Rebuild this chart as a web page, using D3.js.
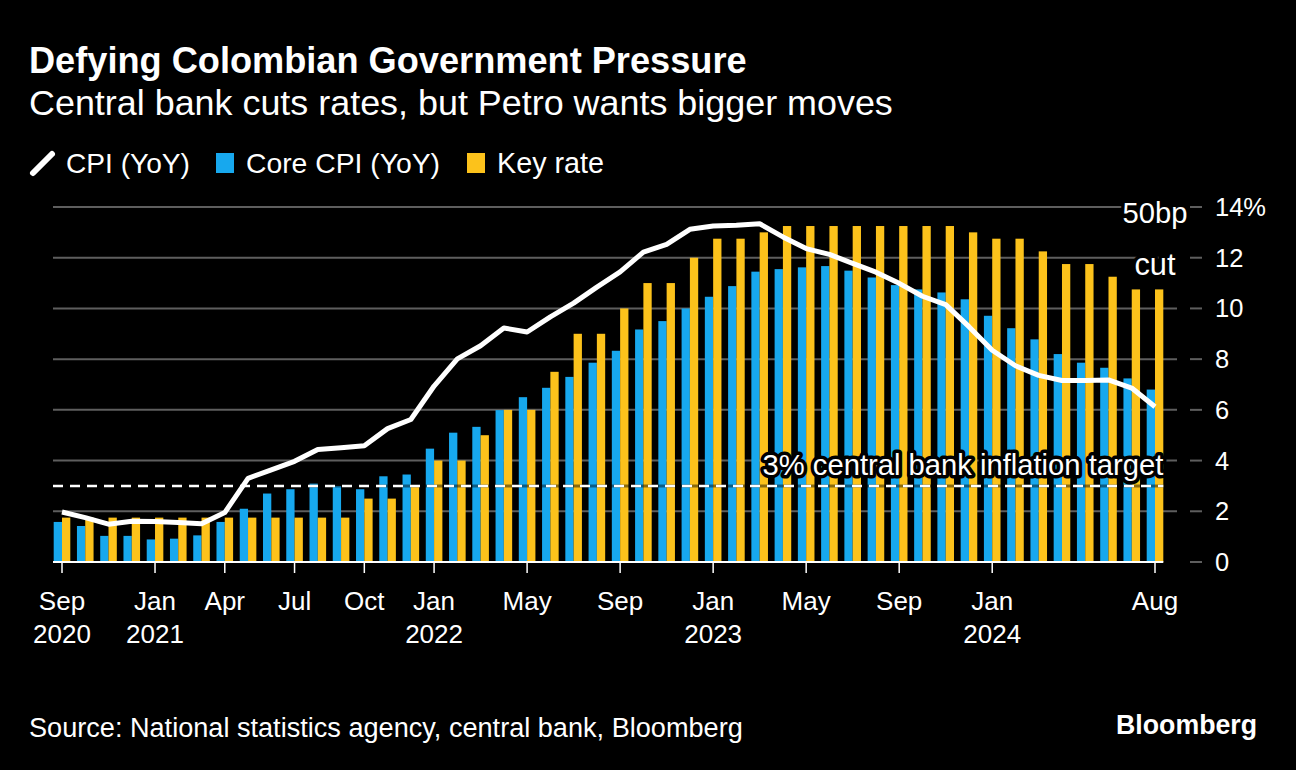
<!DOCTYPE html>
<html>
<head>
<meta charset="utf-8">
<script src="https://cdn.jsdelivr.net/npm/d3@7"></script>
<style>
  html, body { margin: 0; padding: 0; background: #000; }
  svg { display: block; }
  text { font-family: "Liberation Sans", Arial, Helvetica, sans-serif; fill: #fff; }
</style>
</head>
<body>
<svg id="chart" width="1296" height="770"></svg>
<script>
// ---------------- DATA ----------------
const months = [
  "2020-09","2020-10","2020-11","2020-12",
  "2021-01","2021-02","2021-03","2021-04","2021-05","2021-06","2021-07","2021-08","2021-09","2021-10","2021-11","2021-12",
  "2022-01","2022-02","2022-03","2022-04","2022-05","2022-06","2022-07","2022-08","2022-09","2022-10","2022-11","2022-12",
  "2023-01","2023-02","2023-03","2023-04","2023-05","2023-06","2023-07","2023-08","2023-09","2023-10","2023-11","2023-12",
  "2024-01","2024-02","2024-03","2024-04","2024-05","2024-06","2024-07","2024-08"
];
const cpi = [
  1.97,1.75,1.49,1.61,
  1.60,1.56,1.51,1.95,3.30,3.63,3.97,4.44,4.51,4.58,5.26,5.62,
  6.94,8.01,8.53,9.23,9.07,9.67,10.21,10.84,11.44,12.22,12.53,13.12,
  13.25,13.28,13.34,12.82,12.36,12.13,11.78,11.43,10.99,10.48,10.15,9.28,
  8.35,7.74,7.36,7.16,7.16,7.18,6.86,6.12
];
const coreCpi = [
  1.58,1.42,1.03,1.03,
  0.89,0.92,1.05,1.58,2.10,2.70,2.87,3.09,3.00,2.87,3.38,3.45,
  4.47,5.10,5.33,5.99,6.50,6.87,7.30,7.86,8.33,9.17,9.50,10.00,
  10.46,10.88,11.45,11.55,11.62,11.67,11.49,11.22,10.92,10.75,10.63,10.36,
  9.71,9.22,8.78,8.20,7.86,7.66,7.24,6.80
];
const keyRate = [
  1.75,1.75,1.75,1.75,
  1.75,1.75,1.75,1.75,1.75,1.75,1.75,1.75,1.75,2.50,2.50,3.00,
  4.00,4.00,5.00,6.00,6.00,7.50,9.00,9.00,10.00,11.00,11.00,12.00,
  12.75,12.75,13.00,13.25,13.25,13.25,13.25,13.25,13.25,13.25,13.25,13.00,
  12.75,12.75,12.25,11.75,11.75,11.25,10.75,10.75
];
const yTicks = [0, 2, 4, 6, 8, 10, 12, 14];
const xTickMonths = ["2020-09","2021-01","2021-04","2021-07","2021-10","2022-01","2022-05","2022-09","2023-01","2023-05","2023-09","2024-01","2024-08"];
const xTickMonthLabels = ["Sep","Jan","Apr","Jul","Oct","Jan","May","Sep","Jan","May","Sep","Jan","Aug"];
const xTickYearLabels = ["2020","2021","","","","2022","","","2023","","","2024",""];
const inflationTarget = 3;

const titleText = "Defying Colombian Government Pressure";
const subtitleText = "Central bank cuts rates, but Petro wants bigger moves";
const legendLabels = ["CPI (YoY)", "Core CPI (YoY)", "Key rate"];
const sourceText = "Source: National statistics agency, central bank, Bloomberg";

// ---------------- STYLE ----------------
const BLUE = "#17a8ee";
const YELLOW = "#fcc21b";
const GRID = "#5e5e5e";

const svg = d3.select("#chart");
svg.append("rect").attr("width", 1296).attr("height", 770).attr("fill", "#000");

function fit(sel, target) {
  const node = sel.node();
  const fs = parseFloat(sel.attr("font-size"));
  const w = node.getComputedTextLength();
  if (w > 0) sel.attr("font-size", (fs * target / w).toFixed(2));
  return sel;
}

// ---------------- SCALES ----------------
const n = months.length;
const pInner = 0.286;
const step = (1155 - 62) / (n - 1);
const x = d3.scaleBand()
  .domain(months)
  .range([62 - step / 2, 1155 + step / 2])
  .paddingInner(pInner)
  .paddingOuter(pInner / 2);
const xs = d3.scaleBand().domain(["core", "rate"]).range([0, x.bandwidth()]);
const xc = m => x(m) + x.bandwidth() / 2;
const y = d3.scaleLinear().domain([0, 14]).range([562, 207]);

const plotLeft = 53, gridRight = 1177;

// ---------------- GRID ----------------
const grid = svg.append("g");
grid.selectAll("line.g").data(yTicks.filter(d => d > 0)).join("line")
  .attr("x1", plotLeft).attr("x2", gridRight)
  .attr("y1", d => y(d)).attr("y2", d => y(d))
  .attr("stroke", GRID).attr("stroke-width", 2);
grid.selectAll("line.t").data(yTicks).join("line")
  .attr("x1", 1190).attr("x2", 1202)
  .attr("y1", d => y(d)).attr("y2", d => y(d))
  .attr("stroke", GRID).attr("stroke-width", 2);

// Y labels
svg.append("g").selectAll("text").data(yTicks).join("text")
  .attr("x", 1215).attr("y", d => y(d) + 9)
  .attr("font-size", 25.5)
  .text(d => d === 14 ? d + "%" : d);

// ---------------- BARS ----------------
const rows = months.map((m, i) => ({ m, core: coreCpi[i], rate: keyRate[i], cpi: cpi[i] }));
const bars = svg.append("g");
bars.selectAll("rect.core").data(rows).join("rect")
  .attr("x", d => x(d.m) + xs("core")).attr("width", xs.bandwidth())
  .attr("y", d => y(d.core)).attr("height", d => y(0) - y(d.core))
  .attr("fill", BLUE);
bars.selectAll("rect.rate").data(rows).join("rect")
  .attr("x", d => x(d.m) + xs("rate")).attr("width", xs.bandwidth())
  .attr("y", d => y(d.rate)).attr("height", d => y(0) - y(d.rate))
  .attr("fill", YELLOW);

// baseline
svg.append("line")
  .attr("x1", plotLeft).attr("x2", x(months[n - 1]) + x.bandwidth())
  .attr("y1", y(0)).attr("y2", y(0))
  .attr("stroke", "#fff").attr("stroke-width", 2);

// x ticks
svg.append("g").selectAll("line").data(xTickMonths).join("line")
  .attr("x1", d => xc(d)).attr("x2", d => xc(d))
  .attr("y1", y(0)).attr("y2", y(0) + 11)
  .attr("stroke", "#fff").attr("stroke-width", 1.5);

const xl = svg.append("g").attr("text-anchor", "middle");
xl.selectAll("text.m").data(xTickMonths).join("text")
  .attr("x", d => xc(d)).attr("y", 610).attr("font-size", 26)
  .text((d, i) => xTickMonthLabels[i]);
xl.selectAll("text.y").data(xTickMonths).join("text")
  .attr("x", d => xc(d)).attr("y", 643).attr("font-size", 26)
  .text((d, i) => xTickYearLabels[i]);

// ---------------- TARGET LINE ----------------
const tEnd = x(months[n - 1]) + x.bandwidth();
svg.append("line")
  .attr("x1", plotLeft).attr("x2", tEnd)
  .attr("y1", y(inflationTarget)).attr("y2", y(inflationTarget))
  .attr("stroke", "#000").attr("stroke-opacity", 0.45).attr("stroke-width", 3);
svg.append("line")
  .attr("x1", plotLeft).attr("x2", tEnd)
  .attr("y1", y(inflationTarget)).attr("y2", y(inflationTarget))
  .attr("stroke", "#fff").attr("stroke-width", 2.5)
  .attr("stroke-dasharray", "10,7");

// ---------------- CPI LINE ----------------
const line = d3.line().x(d => xc(d.m)).y(d => y(d.cpi));
svg.append("path").datum(rows)
  .attr("d", line)
  .attr("fill", "none").attr("stroke", "#fff")
  .attr("stroke-width", 5).attr("stroke-linejoin", "round").attr("stroke-linecap", "butt");

// ---------------- ANNOTATIONS ----------------
function halo(sel) {
  return sel.attr("stroke", "#000").attr("stroke-width", 7)
    .attr("stroke-linejoin", "round").attr("paint-order", "stroke");
}
const tl = svg.append("text")
  .attr("x", tEnd).attr("y", 475).attr("text-anchor", "end")
  .attr("font-size", 25).text("3% central bank inflation target");
halo(tl); fit(tl, 401);

const lastX = xc(months[n - 1]);
halo(fit(svg.append("text").attr("x", lastX).attr("y", 223).attr("text-anchor", "middle")
  .attr("font-size", 27).text("50bp"), 65));
halo(fit(svg.append("text").attr("x", lastX).attr("y", 275).attr("text-anchor", "middle")
  .attr("font-size", 27).text("cut"), 41));

// ---------------- HEADER ----------------
fit(svg.append("text").attr("x", 29).attr("y", 73).attr("font-size", 30)
  .attr("font-weight", "bold").text(titleText), 718);
fit(svg.append("text").attr("x", 29).attr("y", 115).attr("font-size", 28)
  .text(subtitleText), 864);

// Legend
svg.append("line").attr("x1", 33).attr("y1", 173).attr("x2", 52).attr("y2", 154)
  .attr("stroke", "#fff").attr("stroke-width", 6).attr("stroke-linecap", "round");
fit(svg.append("text").attr("x", 66).attr("y", 173).attr("font-size", 26).text(legendLabels[0]), 124);
svg.append("rect").attr("x", 216).attr("y", 153).attr("width", 18).attr("height", 20).attr("fill", BLUE);
fit(svg.append("text").attr("x", 246).attr("y", 173).attr("font-size", 26).text(legendLabels[1]), 194);
svg.append("rect").attr("x", 467).attr("y", 153).attr("width", 18).attr("height", 20).attr("fill", YELLOW);
fit(svg.append("text").attr("x", 497).attr("y", 173).attr("font-size", 26).text(legendLabels[2]), 107);

// Footer
fit(svg.append("text").attr("x", 29).attr("y", 737).attr("font-size", 25).text(sourceText), 714);
fit(svg.append("text").attr("x", 1257).attr("y", 734).attr("text-anchor", "end")
  .attr("font-size", 25).attr("font-weight", "bold").text("Bloomberg"), 141);
</script>
</body>
</html>
